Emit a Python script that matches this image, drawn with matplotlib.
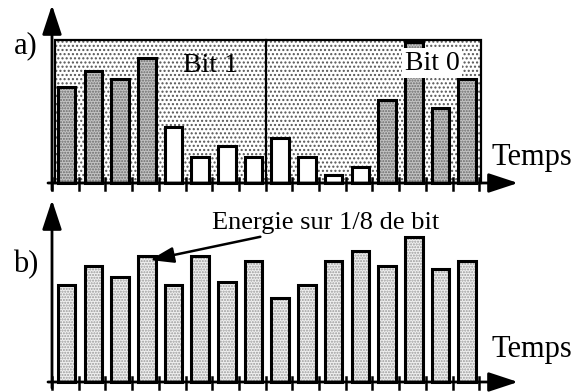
""" Energie par 1/8 de bit : a) signal code, b) signal sans codage """

import matplotlib.pyplot as plt
from matplotlib.patches import Rectangle
import numpy as np

plt.rcParams['font.family'] = ['Liberation Serif', 'DejaVu Serif']
plt.rcParams['hatch.linewidth'] = 1.0

# energie mesuree sur chaque 1/8 de bit (unites arbitraires)
energie_a = [9.6, 11.2, 10.4, 12.5, 5.6, 2.6, 3.7, 2.6,
             4.5, 2.6, 0.8, 1.6, 8.3, 14.1, 7.5, 10.4]
energie_b = [9.7, 11.6, 10.5, 12.6, 9.7, 12.6, 10.0, 12.1,
             8.4, 9.7, 12.1, 13.1, 11.6, 14.5, 11.3, 12.1]
# huitiemes ou l'energie est concentree (grises)
forte = [1, 1, 1, 1, 0, 0, 0, 0, 0, 0, 0, 0, 1, 1, 1, 1]
bits = ["Bit 1", "Bit 0"]
n = len(energie_a)
slots = np.arange(n) + 0.55
W = 26.7  # pixels par huitieme de bit

fig = plt.figure(figsize=(5.76, 3.92), dpi=100)
ax1 = fig.add_axes([0, 0.5, 1, 0.5])
ax2 = fig.add_axes([0, 0, 1, 0.5])
ax1.set_xlim(-52 / W, 524 / W)
ax2.set_xlim(-52 / W, 524 / W)
ax1.set_ylim(-1.3, 18.3)
ax2.set_ylim(-1.0, 18.6)
for ax in (ax1, ax2):
    ax.axis("off")


def axes_fleches(ax, ytop, ybot):
    """Axes avec fleches et graduations"""
    arrow = dict(arrowstyle='-|>,head_length=1.0,head_width=0.33', lw=2, color='k',
                 mutation_scale=18, shrinkA=0, shrinkB=0)
    ax.annotate('', xy=(0, ytop), xytext=(0, ybot), arrowprops=arrow, annotation_clip=False)
    ax.annotate('', xy=(466 / W, 0), xytext=(-0.15, 0), arrowprops=arrow, annotation_clip=False)
    for k in range(n + 1):
        ax.plot([k, k], [-0.7, 0.5], color='k', lw=1.8, zorder=5)


# a) signal code
ax1.add_patch(Rectangle((0.11, 0), 15.96, 14.3, facecolor='white', edgecolor='#555555',
                        hatch='....', linewidth=0, zorder=1))
ax1.add_patch(Rectangle((0.11, 0), 15.96, 14.3, fill=False, edgecolor='k', linewidth=1.6, zorder=2))
ax1.plot([n / 2, n / 2], [0, 14.3], color='k', lw=1.6, zorder=2)
bars = ax1.bar(slots, energie_a, 0.66, color='white', linewidth=0, zorder=3)
for b, f in zip(bars, forte):
    if f:
        b.set_facecolor('#c4c4c4')
        b.set_edgecolor('#6a6a6a')
        b.set_hatch('......')
ax1.bar(slots, energie_a, 0.66, fill=False, edgecolor='k', linewidth=2.2, zorder=4)
axes_fleches(ax1, 17.8, -0.7)
ax1.text(-0.97, 13.7, "a)", fontsize=22, ha='center', va='center')
ax1.text(5.92, 11.8, bits[0], fontsize=20, ha='center', va='center', zorder=6)
ax1.text(14.23, 12.0, bits[1], fontsize=20, ha='center', va='center', zorder=6,
         bbox=dict(facecolor='white', edgecolor='none', pad=2))
ax1.text(17.98, 2.6, "Temps", fontsize=22, ha='center', va='center')

# b) signal non code
ax2.bar(slots, energie_b, 0.66, color='#f0f0f0', edgecolor='#9a9a9a', hatch='......',
        linewidth=0, zorder=3)
ax2.bar(slots, energie_b, 0.66, fill=False, edgecolor='k', linewidth=2.2, zorder=4)
axes_fleches(ax2, 18.2, -0.6)
ax2.text(-0.97, 11.7, "b)", fontsize=22, ha='center', va='center')
ax2.text(17.98, 3.2, "Temps", fontsize=22, ha='center', va='center')
ax2.annotate("Energie sur 1/8 de bit", xy=(3.67, 12.2), xytext=(6.0, 15.9),
             fontsize=19, ha='left', va='center', zorder=6,
             arrowprops=dict(arrowstyle='-|>,head_length=0.9,head_width=0.3', lw=1.8,
                             color='k', mutation_scale=16, shrinkA=0, shrinkB=0),
             annotation_clip=False)

plt.savefig("out.png", dpi=100)
